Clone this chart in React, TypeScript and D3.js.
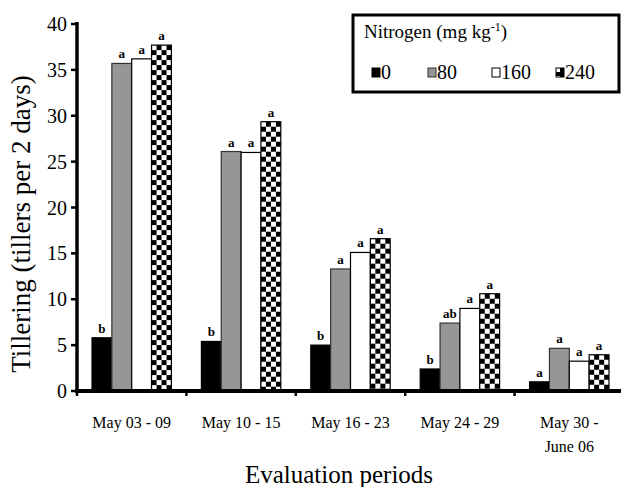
import React from 'react';
import { scaleBand, scaleLinear } from 'd3';

const periods = ['May 03 - 09', 'May 10 - 15', 'May 16 - 23', 'May 24 - 29', 'May 30 -|June 06'];
const nitrogen = ['0', '80', '160', '240'];
const n0 = [5.8, 5.4, 5.0, 2.4, 1.0];
const n80 = [35.7, 26.1, 13.3, 7.4, 4.65];
const n160 = [36.2, 26.0, 15.1, 9.0, 3.25];
const n240 = [37.7, 29.35, 16.6, 10.6, 3.95];
const l0 = ['b', 'b', 'b', 'b', 'a'];
const l80 = ['a', 'a', 'a', 'ab', 'a'];
const l160 = ['a', 'a', 'a', 'a', 'a'];
const l240 = ['a', 'a', 'a', 'a', 'a'];
const yTicks = [0, 5, 10, 15, 20, 25, 30, 35, 40];

const width = 621;
const height = 487;
const font = 'Liberation Serif, Times New Roman, serif';

const seriesValues = [n0, n80, n160, n240];
const seriesLetters = [l0, l80, l160, l240];
const fills = ['#000', '#969696', '#fff', 'checker'];
const strokes = ['#000', '#333', '#000', '#000'];

const App = () => {
  const yScale = scaleLinear().domain([0, 40]).range([391, 24]);
  const xScale = scaleBand().domain(periods).range([77, 624]).padding(0);
  const sub = scaleBand()
    .domain(nitrogen)
    .range([15, xScale.bandwidth() - 15])
    .padding(0);

  const bars = [];
  periods.forEach((p, i) => {
    nitrogen.forEach((n, s) => {
      const v = seriesValues[s][i];
      bars.push({
        key: `${i}-${s}`,
        x: xScale(p) + sub(n),
        y: yScale(v),
        w: sub.bandwidth(),
        h: yScale(0) - yScale(v),
        s,
        label: seriesLetters[s][i],
      });
    });
  });

  const legendX = [372, 428, 492, 556];
  const txt = { fontFamily: font };

  return (
    <svg
      width={width}
      height={height}
      style={{ position: 'absolute', left: 0, top: 0, background: '#fff', fontFamily: font }}
    >
      <defs>
        {bars
          .filter(b => b.s === 3)
          .map(b => (
            <pattern
              key={b.key}
              id={`chk-${b.key}`}
              patternUnits="userSpaceOnUse"
              x={b.x}
              y={b.y}
              width={10}
              height={10}
            >
              <rect width={10} height={10} fill="#fff" />
              <rect x={5} y={0} width={5} height={5} fill="#000" />
              <rect x={0} y={5} width={5} height={5} fill="#000" />
            </pattern>
          ))}
        <pattern id="chk-legend" patternUnits="userSpaceOnUse" x={556} y={68} width={8} height={8}>
          <rect width={8} height={8} fill="#000" />
          <rect x={0} y={0} width={4} height={4} fill="#fff" />
        </pattern>
      </defs>

      {/* bars */}
      {bars.map(b => (
        <rect
          key={b.key}
          x={b.x}
          y={b.y}
          width={b.w}
          height={b.h}
          fill={b.s === 3 ? `url(#chk-${b.key})` : fills[b.s]}
          stroke={strokes[b.s]}
          strokeWidth={1.2}
        />
      ))}

      {/* significance letters */}
      {bars.map(b => (
        <text
          key={'l' + b.key}
          x={b.x + b.w / 2}
          y={b.y - 5}
          textAnchor="middle"
          fontSize={13}
          fontWeight="bold"
          style={txt}
        >
          {b.label}
        </text>
      ))}

      {/* y axis */}
      <line x1={77} x2={77} y1={22} y2={393} stroke="#000" strokeWidth={3.5} />
      {yTicks.map(t => (
        <g key={t}>
          <line x1={71} x2={77} y1={yScale(t)} y2={yScale(t)} stroke="#000" strokeWidth={2.5} />
          <text x={67} y={yScale(t)} dy="0.35em" textAnchor="end" fontSize={20} style={txt}>
            {t}
          </text>
        </g>
      ))}

      {/* x axis */}
      <line x1={75} x2={624} y1={391} y2={391} stroke="#000" strokeWidth={4} />
      {periods.map(p => (
        <line
          key={p}
          x1={xScale(p)}
          x2={xScale(p)}
          y1={391}
          y2={396}
          stroke="#000"
          strokeWidth={2.5}
        />
      ))}
      {periods.map(p => (
        <text key={'t' + p} x={xScale(p) + xScale.bandwidth() / 2} y={428} textAnchor="middle" fontSize={16} style={txt}>
          {p.split('|').map((line, k) => (
            <tspan key={k} x={xScale(p) + xScale.bandwidth() / 2} dy={k === 0 ? 0 : 24}>
              {line}
            </tspan>
          ))}
        </text>
      ))}

      {/* axis titles */}
      <text x={339} y={483} textAnchor="middle" fontSize={25} style={txt}>
        Evaluation periods
      </text>
      <text
        transform="translate(30, 224) rotate(-90)"
        textAnchor="middle"
        fontSize={27}
        style={txt}
      >
        Tillering (tillers per 2 days)
      </text>

      {/* legend */}
      <rect x={353} y={15} width={266} height={77} fill="#fff" stroke="#000" strokeWidth={3} />
      <text x={364} y={38} fontSize={19} style={txt}>
        Nitrogen (mg kg
        <tspan fontSize={12} dy={-7}>-1</tspan>
        <tspan dy={7}>)</tspan>
      </text>
      {nitrogen.map((n, s) => (
        <g key={'lg' + n}>
          <rect
            x={legendX[s]}
            y={68}
            width={8}
            height={9}
            fill={s === 3 ? 'url(#chk-legend)' : fills[s]}
            stroke={strokes[s]}
            strokeWidth={1}
          />
          <text x={legendX[s] + 9} y={79} fontSize={20} style={txt}>
            {n}
          </text>
        </g>
      ))}
    </svg>
  );
};

export default App;
